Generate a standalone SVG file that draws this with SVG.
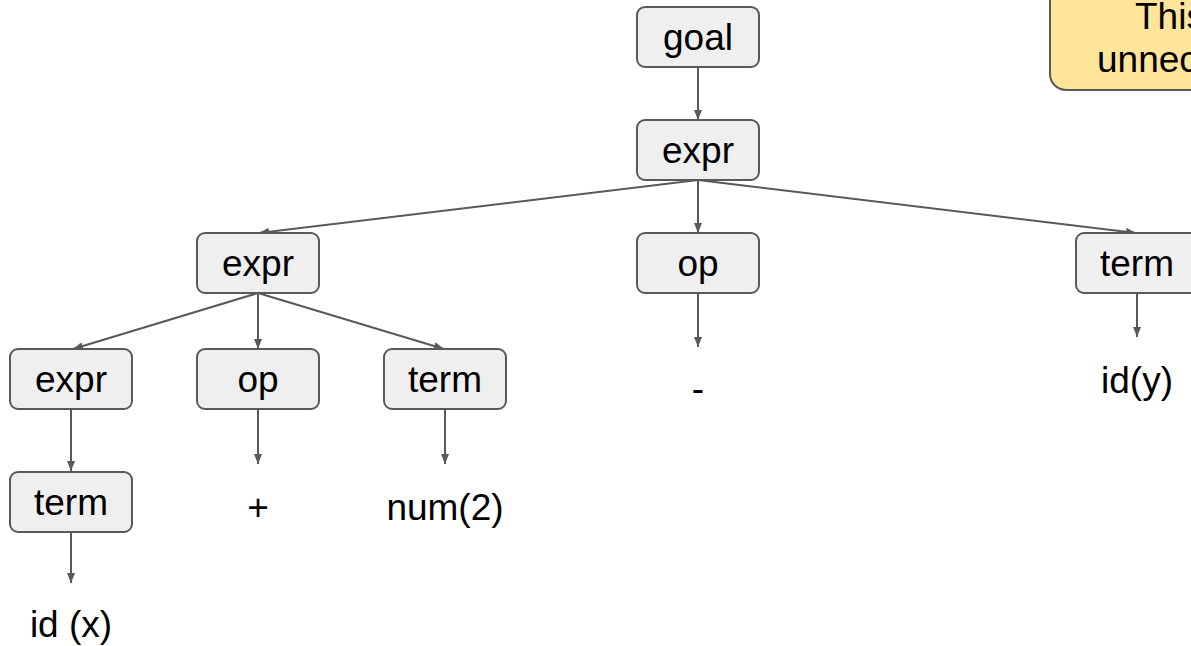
<svg xmlns="http://www.w3.org/2000/svg" width="1191" height="646" viewBox="0 0 1191 646">
<style>
.box{fill:#efefef;stroke:#595959;stroke-width:2}
.note{fill:#ffe599;stroke:#595959;stroke-width:2}
.t{font-family:"Liberation Sans",Arial,sans-serif;font-size:37px;fill:#000;text-anchor:middle}
.ts{font-family:"Liberation Sans",Arial,sans-serif;font-size:37px;fill:#000}
.e{stroke:#595959;stroke-width:2;fill:none;marker-end:url(#ah)}
</style>
<defs>
<marker id="ah" viewBox="0 0 10 8" refX="10" refY="4" markerWidth="10" markerHeight="8" markerUnits="userSpaceOnUse" orient="auto">
<path d="M0,0 L10,4 L0,8 Z" fill="#595959"/>
</marker>
</defs>
<rect width="1191" height="646" fill="#fff"/>
<g id="note">
<rect class="note" x="1050" y="-20" width="180" height="110" rx="16"/>
<text class="ts" x="1135" y="29">This</text>
<text class="ts" x="1097" y="72">unnec</text>
</g>
<g id="connectors">
<line class="e" x1="698" y1="67" x2="698" y2="120"/>
<line class="e" x1="698" y1="180" x2="259" y2="233"/>
<line class="e" x1="698" y1="180" x2="698" y2="233"/>
<line class="e" x1="698" y1="180" x2="1136" y2="233"/>
<line class="e" x1="258" y1="293" x2="73" y2="349"/>
<line class="e" x1="258" y1="293" x2="258" y2="349"/>
<line class="e" x1="258" y1="293" x2="444" y2="349"/>
<line class="e" x1="698" y1="293" x2="698" y2="347"/>
<line class="e" x1="1137" y1="293" x2="1137" y2="337"/>
<line class="e" x1="71" y1="409" x2="71" y2="471"/>
<line class="e" x1="258" y1="409" x2="258" y2="464"/>
<line class="e" x1="445" y1="409" x2="445" y2="464"/>
<line class="e" x1="71" y1="532" x2="71" y2="583"/>
</g>
<g id="goal"><rect class="box" x="637" y="7" width="122" height="60" rx="8"/><text class="t" x="698" y="50">goal</text></g>
<g id="expr1"><rect class="box" x="637" y="120" width="122" height="60" rx="8"/><text class="t" x="698" y="163">expr</text></g>
<g id="expr2"><rect class="box" x="197" y="233" width="122" height="60" rx="8"/><text class="t" x="258" y="276">expr</text></g>
<g id="op2"><rect class="box" x="637" y="233" width="122" height="60" rx="8"/><text class="t" x="698" y="276">op</text></g>
<g id="term2"><rect class="box" x="1076" y="233" width="122" height="60" rx="8"/><text class="t" x="1137" y="276">term</text></g>
<g id="expr3"><rect class="box" x="10" y="349" width="122" height="60" rx="8"/><text class="t" x="71" y="392">expr</text></g>
<g id="op3"><rect class="box" x="197" y="349" width="122" height="60" rx="8"/><text class="t" x="258" y="392">op</text></g>
<g id="term3"><rect class="box" x="384" y="349" width="122" height="60" rx="8"/><text class="t" x="445" y="392">term</text></g>
<g id="term4"><rect class="box" x="10" y="472" width="122" height="60" rx="8"/><text class="t" x="71" y="515">term</text></g>
<g id="leaf-idx"><text class="t" x="71" y="637">id (x)</text></g>
<g id="leaf-plus"><text class="t" x="258" y="520">+</text></g>
<g id="leaf-num"><text class="t" x="445" y="520">num(2)</text></g>
<g id="leaf-minus"><text class="t" x="698" y="401">-</text></g>
<g id="leaf-idy"><text class="t" x="1137" y="393">id(y)</text></g>
</svg>
